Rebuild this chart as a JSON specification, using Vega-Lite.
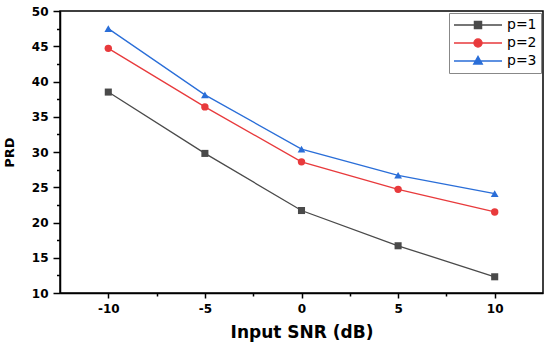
{
  "$schema": "https://vega.github.io/schema/vega-lite/v6.json",
  "width": 483,
  "height": 282,
  "autosize": {"type": "none"},
  "padding": {"left": 60, "top": 11, "right": 7, "bottom": 50},
  "background": "white",
  "config": {
    "view": {"stroke": "black", "strokeWidth": 1.5},
    "axis": {
      "domainColor": "black", "domainWidth": 1.5, "tickColor": "black", "tickWidth": 1.5,
      "labelFont": "DejaVu Sans", "labelFontWeight": "bold", "labelFontSize": 12, "labelColor": "black",
      "titleFont": "DejaVu Sans", "titleFontWeight": "bold", "titleColor": "black", "grid": false
    }
  },
  "data": {
    "values": [
      {"snr": -10, "prd": 38.5, "p": "p=1"},
      {"snr": -5, "prd": 29.8, "p": "p=1"},
      {"snr": 0, "prd": 21.7, "p": "p=1"},
      {"snr": 5, "prd": 16.7, "p": "p=1"},
      {"snr": 10, "prd": 12.3, "p": "p=1"},
      {"snr": -10, "prd": 44.7, "p": "p=2"},
      {"snr": -5, "prd": 36.4, "p": "p=2"},
      {"snr": 0, "prd": 28.6, "p": "p=2"},
      {"snr": 5, "prd": 24.7, "p": "p=2"},
      {"snr": 10, "prd": 21.5, "p": "p=2"},
      {"snr": -10, "prd": 47.5, "p": "p=3"},
      {"snr": -5, "prd": 38.1, "p": "p=3"},
      {"snr": 0, "prd": 30.4, "p": "p=3"},
      {"snr": 5, "prd": 26.7, "p": "p=3"},
      {"snr": 10, "prd": 24.1, "p": "p=3"}
    ]
  },
  "layer": [
    {
      "mark": {"type": "line", "strokeWidth": 1.3},
      "encoding": {
        "x": {"field": "snr", "type": "quantitative", "scale": {"domain": [-12.5, 12.5], "nice": false, "zero": false},
          "axis": {"orient": "bottom", "values": [-10, -5, 0, 5, 10], "labelExpr": "'' + datum.value", "tickSize": 5, "labelPadding": 5, "title": "Input SNR (dB)", "titleFontSize": 17, "titleY": 44, "titleBaseline": "alphabetic"}},
        "y": {"field": "prd", "type": "quantitative", "scale": {"domain": [10, 50], "nice": false, "zero": false},
          "axis": {"orient": "left", "values": [10, 15, 20, 25, 30, 35, 40, 45, 50], "tickSize": 7, "labelPadding": 5, "title": "PRD", "titleFontSize": 13, "titleX": -44}},
        "color": {"field": "p", "type": "nominal",
          "scale": {"domain": ["p=1", "p=2", "p=3"], "range": ["#4a4a4a", "#e83a3c", "#2a6ed8"]},
          "legend": {
            "title": null, "orient": "top-right", "offset": 2, "strokeColor": "#888888", "fillColor": "white", "padding": 4,
            "labelFont": "DejaVu Sans", "labelFontSize": 14, "labelColor": "black", "labelOffset": 4,
            "symbolSize": 2304, "symbolStrokeWidth": 1.3, "clipHeight": 16, "rowPadding": 2,
            "encode": {
              "symbols": {
                "update": {
                  "shape": {"signal": "datum.value === 'p=1' ? 'M-1,0H1M-0.15,-0.15H0.15V0.15H-0.15Z' : datum.value === 'p=2' ? 'M-1,0H1M-0.17,0A0.17,0.17,0,1,0,0.17,0A0.17,0.17,0,1,0,-0.17,0Z' : 'M-1,0H1M0,-0.19L0.18,0.13H-0.18Z'"},
                  "fill": {"scale": "color", "field": "value"},
                  "stroke": {"scale": "color", "field": "value"},
                  "opacity": {"value": 1},
                  "fillOpacity": {"value": 1}
                }
              }
            }
          }
        }
      }
    },
    {
      "transform": [{"filter": "datum.p === 'p=1'"}],
      "mark": {"type": "point", "filled": true, "size": 50, "opacity": 1, "shape": "square"},
      "encoding": {
        "x": {"field": "snr", "type": "quantitative",
          "axis": {"orient": "bottom", "values": [-7.5, -2.5, 2.5, 7.5], "tickSize": 3, "labels": false, "domain": false, "title": null}},
        "y": {"field": "prd", "type": "quantitative",
          "axis": {"orient": "left", "values": [12.5, 17.5, 22.5, 27.5, 32.5, 37.5, 42.5, 47.5], "tickSize": 3.5, "labels": false, "domain": false, "title": null}},
        "color": {"field": "p", "type": "nominal"}
      }
    },
    {
      "transform": [{"filter": "datum.p === 'p=2'"}],
      "mark": {"type": "point", "filled": true, "size": 55, "opacity": 1, "shape": "circle"},
      "encoding": {
        "x": {"field": "snr", "type": "quantitative", "axis": null},
        "y": {"field": "prd", "type": "quantitative", "axis": null},
        "color": {"field": "p", "type": "nominal"}
      }
    },
    {
      "transform": [{"filter": "datum.p === 'p=3'"}],
      "mark": {"type": "point", "filled": true, "size": 60, "opacity": 1, "shape": "triangle-up"},
      "encoding": {
        "x": {"field": "snr", "type": "quantitative", "axis": null},
        "y": {"field": "prd", "type": "quantitative", "axis": null},
        "color": {"field": "p", "type": "nominal"}
      }
    }
  ],
  "resolve": {"axis": {"x": "independent", "y": "independent"}}
}
